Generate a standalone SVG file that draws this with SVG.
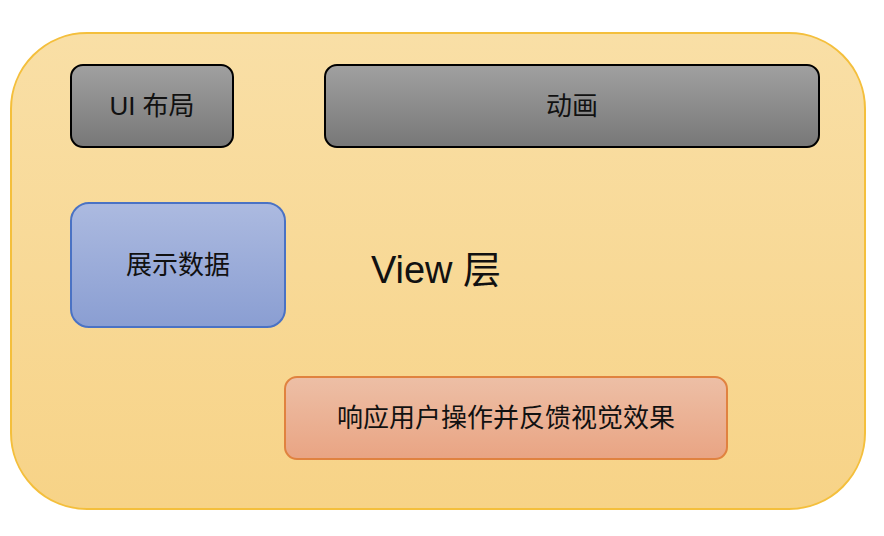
<svg xmlns="http://www.w3.org/2000/svg" width="884" height="536" viewBox="0 0 884 536">
<style>
text{font-family:"Liberation Sans","Noto Sans CJK SC",sans-serif;fill:#111;text-anchor:middle;dominant-baseline:central}
.lbl{font-size:26px}
.gray{fill:url(#gGray);stroke:#000;stroke-width:2}
</style>
<defs>
<linearGradient id="gOuter" x1="0" y1="0" x2="0" y2="1"><stop offset="0" stop-color="#f9dfa6"/><stop offset="1" stop-color="#f7d387"/></linearGradient>
<linearGradient id="gGray" x1="0" y1="0" x2="0" y2="1"><stop offset="0" stop-color="#a0a0a0"/><stop offset="1" stop-color="#777"/></linearGradient>
<linearGradient id="gBlue" x1="0" y1="0" x2="0" y2="1"><stop offset="0" stop-color="#acbae0"/><stop offset="1" stop-color="#8a9ed2"/></linearGradient>
<linearGradient id="gRed" x1="0" y1="0" x2="0" y2="1"><stop offset="0" stop-color="#edbfa6"/><stop offset="1" stop-color="#e9a483"/></linearGradient>
</defs>
<g id="container">
<rect x="11" y="33" width="854" height="476" rx="76" ry="76" fill="url(#gOuter)" stroke="#f4bf3c" stroke-width="2"/>
<text x="436" y="270" style="font-size:38px">View 层</text>
</g>
<g id="ui-layout">
<rect class="gray" x="71" y="65" width="162" height="82" rx="12"/>
<text class="lbl" x="152" y="106">UI 布局</text>
</g>
<g id="animation">
<rect class="gray" x="325" y="65" width="494" height="82" rx="12"/>
<text class="lbl" x="572" y="106">动画</text>
</g>
<g id="show-data">
<rect x="71" y="203" width="214" height="124" rx="18" fill="url(#gBlue)" stroke="#4a72c4" stroke-width="2"/>
<text class="lbl" x="178" y="265">展示数据</text>
</g>
<g id="respond">
<rect x="285" y="377" width="442" height="82" rx="12" fill="url(#gRed)" stroke="#e0823f" stroke-width="2"/>
<text class="lbl" x="506" y="418">响应用户操作并反馈视觉效果</text>
</g>
<g id="connectors"/>
</svg>
